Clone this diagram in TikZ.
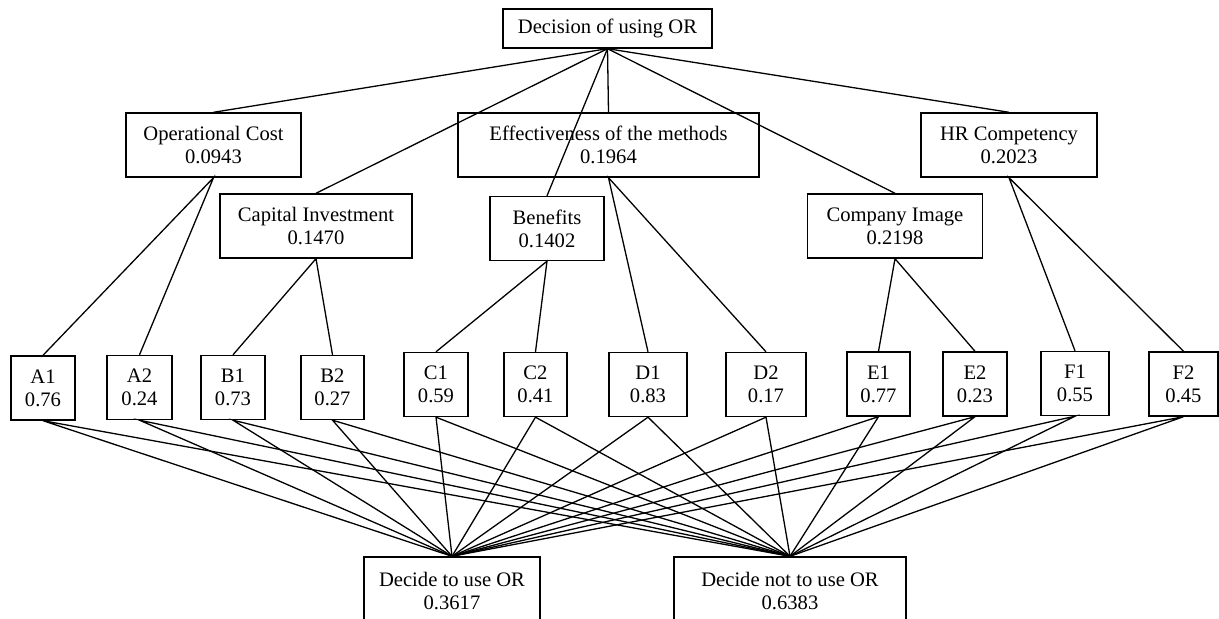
\documentclass[tikz,border=0pt]{standalone}
\usepackage{fontspec}
\setmainfont{Liberation Serif}
\begin{document}
\begin{tikzpicture}[x=0.5pt, y=-0.5pt,
  every node/.style={rectangle, draw, line width=0.7pt, inner sep=0pt, align=center,
    font=\fontsize{10.3}{11.5}\selectfont},
  crit/.style={minimum height=32pt},
  leaf/.style={minimum height=32pt},
  alt/.style={minimum height=34pt},
  e/.style={line width=0.65pt}
]
\useasboundingbox (0,0) rectangle (1219,619);

% --- goal ---
\node[minimum width=104.5pt, minimum height=19.5pt] (goal) at (607.5,28.5) {Decision of using OR};

% --- criteria, upper row ---
\node[crit, minimum width=87.5pt]  (opcost) at (213.5,145) {Operational Cost\\0.0943};
\node[crit, minimum width=150.5pt] (effect) at (608.5,145) {Effectiveness of the methods\\0.1964};
\node[crit, minimum width=88pt]    (hr)     at (1009,145)  {HR Competency\\0.2023};

% --- criteria, lower row ---
\node[crit, minimum width=96pt]   (capinv)  at (316,226)   {Capital Investment\\0.1470};
\node[crit, minimum width=57pt]   (benefit) at (547,228.5) {Benefits\\0.1402};
\node[crit, minimum width=87.5pt] (image)   at (895,226)   {Company Image\\0.2198};

% --- sub-criteria ---
\node[leaf, minimum width=32pt]   (a1) at (43,388)      {A1\\0.76};
\node[leaf, minimum width=32.5pt] (a2) at (139.5,387.5) {A2\\0.24};
\node[leaf, minimum width=32pt]   (b1) at (233,387.5)   {B1\\0.73};
\node[leaf, minimum width=31.5pt] (b2) at (332.5,387.5) {B2\\0.27};
\node[leaf, minimum width=32pt]   (c1) at (436,384.5)   {C1\\0.59};
\node[leaf, minimum width=31.5pt] (c2) at (535.5,384.5) {C2\\0.41};
\node[leaf, minimum width=39pt]   (d1) at (648,384.5)   {D1\\0.83};
\node[leaf, minimum width=40pt]   (d2) at (766,384.5)   {D2\\0.17};
\node[leaf, minimum width=31.5pt] (e1) at (878.5,384)   {E1\\0.77};
\node[leaf, minimum width=32pt]   (e2) at (975,384)     {E2\\0.23};
\node[leaf, minimum width=34pt]   (f1) at (1075,383.5)  {F1\\0.55};
\node[leaf, minimum width=34.5pt] (f2) at (1183.5,384)  {F2\\0.45};

% --- alternatives (cut by the lower edge) ---
\node[alt, minimum width=88pt]  (yes) at (452,591) {Decide to use OR\\0.3617};
\node[alt, minimum width=116pt] (no)  at (790,591) {Decide not to use OR\\0.6383};

% --- goal to criteria ---
\draw[e] (goal.south)--(opcost.north);
\draw[e] (goal.south)--(capinv.north);
\draw[e] (goal.south)--(benefit.north);
\draw[e] (goal.south)--(effect.north);
\draw[e] (goal.south)--(image.north);
\draw[e] (goal.south)--(hr.north);

% --- criteria to sub-criteria ---
\draw[e] (a1.north)--(opcost.south)--(a2.north);
\draw[e] (b1.north)--(capinv.south)--(b2.north);
\draw[e] (c1.north)--(benefit.south)--(c2.north);
\draw[e] (d1.north)--(effect.south)--(d2.north);
\draw[e] (e1.north)--(image.south)--(e2.north);
\draw[e] (f1.north)--(hr.south)--(f2.north);

% --- sub-criteria to alternatives ---
\draw[e] (yes.north)--(a1.south)--(no.north);
\draw[e] (yes.north)--(a2.south)--(no.north);
\draw[e] (yes.north)--(b1.south)--(no.north);
\draw[e] (yes.north)--(b2.south)--(no.north);
\draw[e] (yes.north)--(c1.south)--(no.north);
\draw[e] (yes.north)--(c2.south)--(no.north);
\draw[e] (yes.north)--(d1.south)--(no.north);
\draw[e] (yes.north)--(d2.south)--(no.north);
\draw[e] (yes.north)--(e1.south)--(no.north);
\draw[e] (yes.north)--(e2.south)--(no.north);
\draw[e] (yes.north)--(f1.south)--(no.north);
\draw[e] (yes.north)--(f2.south)--(no.north);

\end{tikzpicture}
\end{document}
